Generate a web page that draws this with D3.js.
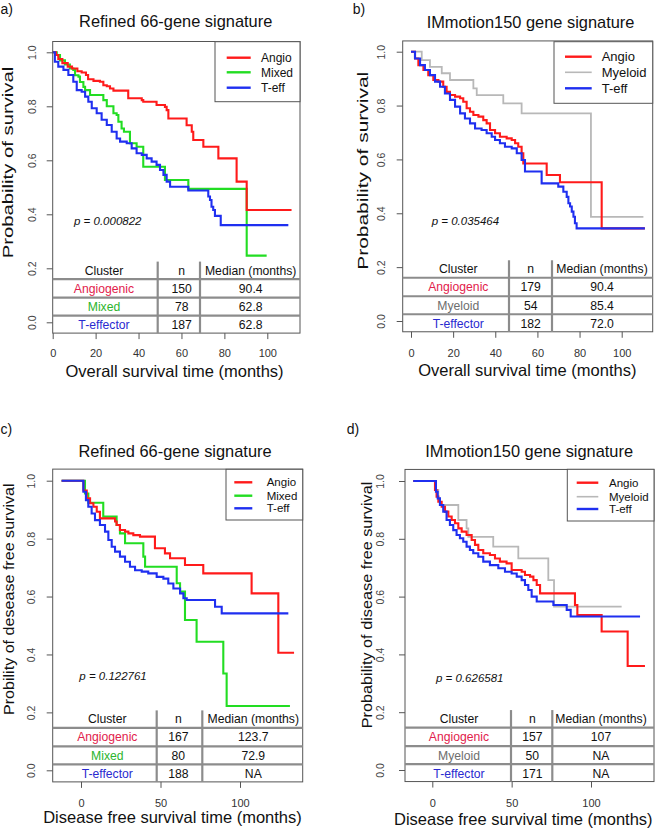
<!DOCTYPE html>
<html><head><meta charset="utf-8">
<script src="https://cdn.jsdelivr.net/npm/d3@7"></script>
<style>body{margin:0;background:#fff} svg{display:block} text{font-family:"Liberation Sans",Arial,Helvetica,sans-serif}</style>
</head><body><svg id="chart" width="655" height="829"></svg>
<script>
// ---------- DATA (time in months, survival probability) ----------
const aAngio = [[0,1],[1.5,0.99],[2.6,0.975],[4.5,0.96],[7,0.947],[9,0.94],[11.5,0.93],[13.5,0.925],[15.5,0.916],[16.5,0.9],[19,0.894],[22,0.891],[23.6,0.878],[25.2,0.874],[26.7,0.866],[28.3,0.858],[35.2,0.83],[41.5,0.823],[42.2,0.817],[48.4,0.805],[52.3,0.798],[53.1,0.786],[53.9,0.755],[62.4,0.73],[64.8,0.706],[65.5,0.675],[70.2,0.65],[77.2,0.607],[85.7,0.521],[90.4,0.416],[111.3,0.416]];
const aMixed = [[0,1],[1.9,0.99],[3.4,0.97],[5.7,0.955],[8,0.94],[9.6,0.935],[10.4,0.915],[12,0.91],[12.7,0.89],[14.3,0.872],[15.1,0.86],[17.4,0.842],[23.6,0.823],[25.2,0.8],[28.3,0.774],[29.8,0.768],[30.6,0.743],[32.1,0.718],[33.2,0.706],[36,0.663],[39.1,0.65],[42.2,0.576],[52.3,0.527],[63.2,0.494],[90.4,0.247],[99.7,0.247]];
const aTeff = [[0,1],[1,0.965],[2.6,0.947],[5,0.935],[7.3,0.916],[9.6,0.891],[11.2,0.86],[13.5,0.854],[15.1,0.836],[16.6,0.817],[18.2,0.793],[20.5,0.774],[22.8,0.75],[25.2,0.731],[27.5,0.706],[29.8,0.681],[31.4,0.669],[34.5,0.663],[36.8,0.644],[39.1,0.626],[41.5,0.62],[43.8,0.607],[46.1,0.595],[48.4,0.583],[50,0.564],[51.6,0.546],[53.1,0.521],[54.7,0.502],[63.2,0.488],[72.5,0.466],[73.3,0.453],[74,0.428],[74.8,0.416],[75.6,0.394],[78.3,0.36],[109.8,0.36]];

const bAngio = [[0,1],[1.9,0.975],[3.5,0.95],[5.9,0.932],[8.2,0.913],[10.6,0.895],[13,0.889],[15.3,0.87],[16.9,0.851],[18.5,0.839],[20.9,0.833],[23.3,0.827],[24.8,0.814],[26.4,0.79],[28,0.777],[29.6,0.765],[32,0.759],[34.3,0.746],[35.9,0.734],[37.5,0.709],[39.9,0.697],[42.2,0.684],[45.4,0.678],[47.8,0.672],[49.4,0.66],[50.9,0.647],[52.5,0.623],[53.3,0.585],[64.4,0.542],[70.7,0.515],[90.5,0.344],[111,0.344]];
const bMyeloid = [[0,1],[5.1,0.969],[9,0.944],[14.6,0.92],[18.5,0.895],[29.6,0.864],[31.2,0.839],[43.8,0.808],[52.5,0.771],[85.4,0.387],[110.3,0.387]];
const bTeff = [[0,1],[1.9,0.975],[4.3,0.95],[6.6,0.932],[9,0.913],[11.4,0.889],[13.8,0.87],[16.1,0.845],[18.5,0.821],[20.9,0.796],[23.3,0.771],[25.6,0.752],[28,0.734],[30.4,0.715],[33.5,0.709],[35.9,0.697],[38.3,0.684],[39.9,0.672],[42.2,0.66],[44.6,0.647],[47.8,0.641],[50.2,0.623],[52.5,0.598],[54.1,0.555],[62,0.511],[69.9,0.499],[72.3,0.48],[73.9,0.461],[74.7,0.437],[75.5,0.425],[76.3,0.406],[77.1,0.387],[77.8,0.363],[78.6,0.344],[111,0.344]];

const cAngio = [[-12.2,1],[1.5,0.966],[3.6,0.939],[5.7,0.922],[7.8,0.91],[9.9,0.893],[11.9,0.87],[21.4,0.859],[22.4,0.847],[24.5,0.83],[27.7,0.824],[29.8,0.818],[32.9,0.812],[37.1,0.807],[46.5,0.767],[52.8,0.749],[56,0.732],[65.4,0.709],[76.9,0.68],[107.3,0.611],[124.1,0.406],[134,0.406]];
const cMixed = [[-12.2,1],[2.5,0.956],[4.6,0.924],[14,0.876],[22.4,0.847],[24.5,0.818],[27.7,0.784],[39.2,0.738],[40.3,0.703],[60.2,0.646],[62.3,0.617],[65.4,0.519],[72.7,0.444],[89.5,0.334],[91.6,0.222],[131.4,0.222]];
const cTeff = [[-12.2,1],[1.5,0.962],[3.1,0.933],[4.6,0.91],[6.7,0.887],[8.8,0.864],[11.9,0.847],[15.1,0.824],[17.2,0.795],[19.3,0.772],[21.4,0.755],[24.5,0.738],[27.7,0.72],[30.8,0.703],[34,0.691],[38.2,0.686],[42.3,0.68],[47.6,0.668],[51.8,0.662],[54.9,0.645],[58.1,0.628],[62.3,0.611],[64.4,0.594],[66.5,0.588],[84.3,0.565],[88.5,0.542],[130.4,0.542]];

const dAngio = [[-12,1],[1.7,0.969],[2.7,0.946],[3.8,0.928],[5.9,0.911],[8,0.894],[10.1,0.877],[12.2,0.865],[14.3,0.854],[16.4,0.836],[18.5,0.825],[21.6,0.813],[24.8,0.796],[26.9,0.779],[29,0.761],[32.1,0.75],[36.3,0.744],[39.5,0.732],[42.6,0.721],[46.8,0.715],[50,0.692],[56.3,0.686],[58.4,0.675],[61.6,0.669],[63.7,0.657],[65.8,0.64],[67.9,0.611],[89.9,0.571],[91.4,0.536],[106.7,0.479],[123.1,0.36],[134,0.36]];
const dMyeloid = [[-12,1],[1.7,0.969],[3.8,0.94],[4.8,0.917],[16.4,0.865],[21.6,0.836],[22.7,0.807],[38.4,0.773],[54.2,0.732],[73.1,0.657],[76.7,0.565],[119.3,0.565]];
const dTeff = [[-12,1],[2.3,0.963],[3.4,0.94],[4.8,0.917],[6.9,0.894],[9,0.865],[11.1,0.848],[13.2,0.83],[15.3,0.813],[17.4,0.802],[19.5,0.79],[21.6,0.773],[23.7,0.761],[25.8,0.75],[29,0.738],[32.1,0.721],[36.3,0.709],[41.6,0.698],[45.8,0.686],[50,0.68],[53.2,0.669],[56.3,0.657],[58.4,0.64],[60.5,0.623],[62.6,0.6],[65.8,0.583],[76.3,0.571],[84.7,0.554],[87.2,0.531],[130.9,0.531]];

const panelLabels = ["a)","b)","c)","d)"];
const titles = ["Refined 66-gene signature","IMmotion150 gene signature","Refined 66-gene signature","IMmotion150 gene signature"];
const xTitles = ["Overall survival time (months)","Overall survival time (months)","Disease free survival time (months)","Disease free survival time (months)"];
const yTitles = ["Probability of survival","Probability of survival","Probility of desease free survival","Probability of disease free survival"];
const pValues = ["0.000822","0.035464","0.122761","0.626581"];
const xTicksOS = [0,20,40,60,80,100];
const xTicksDFS = [0,50,100];
const yTicks = [0,0.2,0.4,0.6,0.8,1.0];
const legendRefined = ["Angio","Mixed","T-eff"];
const legendIMmotion = ["Angio","Myeloid","T-eff"];
const clustersRefined = ["Angiogenic","Mixed","T-effector"];
const clustersIMmotion = ["Angiogenic","Myeloid","T-effector"];
const tableHeader = ["Cluster","n","Median (months)"];
const nA = [150,78,187], medA = ["90.4","62.8","62.8"];
const nB = [179,54,182], medB = ["90.4","85.4","72.0"];
const nC = [167,80,188], medC = ["123.7","72.9","NA"];
const nD = [157,50,171], medD = ["107","NA","NA"];

// ---------- STYLE ----------
const curveCol = {Angio:"#ff1a1a", Mixed:"#22dd22", Myeloid:"#b8b8b8", "T-eff":"#1f2ff0"};
const tableCol = {Angiogenic:"#e2214b", Mixed:"#2db52d", Myeloid:"#6e6e6e", "T-effector":"#2a2ad0"};

const panels = [
 {series:[aAngio,aMixed,aTeff], legend:legendRefined, clusters:clustersRefined, n:nA, med:medA, xTicks:xTicksOS,
  x0:52.7, x100:267.3, boxL:52.7, boxR:300, y0:322.3, y1:52.3,
  lab:[0.5,13.5], title:[175.7,27], xTickY:357.3, xTitle:[174.5,376.7], yTickX:36, yTitle:[13,162.5,191.6], p:[74,224.5],
  lg:{l:215,r:300,t:41.7,b:101.7,ys:[57.7,72.3,87.7],lx1:226.7,lx2:250.7,tx:261,fs:12},
  tb:{v:[157.7,200], cols:[104,181.7,250.7]}},
 {series:[bAngio,bMyeloid,bTeff], legend:legendIMmotion, clusters:clustersIMmotion, n:nB, med:medB, xTicks:xTicksOS,
  x0:411, x100:621.7, boxL:402.7, boxR:652.7, y0:321, y1:51.7,
  lab:[352.7,13.5], title:[530.5,28], xTickY:356.7, xTitle:[527.3,376], yTickX:385, yTitle:[367.7,170.8,198], p:[431.7,224.5],
  lg:{l:554,r:652.7,t:41.7,b:103.3,ys:[56.7,72.3,88.3],lx1:565,lx2:591.7,tx:601.7,fs:13},
  tb:{v:[509,552], cols:[458.3,530.7,602]}},
 {series:[cAngio,cMixed,cTeff], legend:legendRefined, clusters:clustersRefined, n:nC, med:medC, xTicks:xTicksDFS,
  x0:81, x100:240, boxL:52.7, boxR:302.7, y0:770.3, y1:480.7,
  lab:[0.5,434], title:[175,457], xTickY:806.7, xTitle:[172.5,823.3], yTickX:35, yTitle:[13.7,599.2,231.7], p:[79.3,679.5],
  lg:{l:226,r:302.7,t:469.3,b:520,ys:[482.3,495.7,508.3],lx1:234.3,lx2:252.3,tx:266.7,fs:11.5},
  tb:{v:[156.7,202.3], cols:[107.3,178.3,253.3]}},
 {series:[dAngio,dMyeloid,dTeff], legend:legendIMmotion, clusters:clustersIMmotion, n:nD, med:medD, xTicks:xTicksDFS,
  x0:432.3, x100:591, boxL:405, boxR:654, y0:770, y1:481,
  lab:[346.7,434], title:[529.2,457], xTickY:806.7, xTitle:[523.3,825], yTickX:383.5, yTitle:[372,605,246.7], p:[436,682],
  lg:{l:567.3,r:654,t:469.3,b:521,ys:[482.7,496.7,509],lx1:576.7,lx2:598.3,tx:609,fs:11.5},
  tb:{v:[511,552.3], cols:[459,532.3,601]}}
];

const svg = d3.select("#chart");
const axisCol = "#555";

panels.forEach((P, i) => {
  const g = svg.append("g");
  const x = d3.scaleLinear().domain([0,100]).range([P.x0, P.x100]);
  const y = d3.scaleLinear().domain([0,1]).range([P.y0, P.y1]);
  const top = y(1.04), bot = y(-0.04);

  // panel label & title
  g.append("text").attr("x",P.lab[0]).attr("y",P.lab[1]).attr("font-size",14).attr("fill","#111").text(panelLabels[i]);
  g.append("text").attr("x",P.title[0]).attr("y",P.title[1]).attr("text-anchor","middle").attr("font-size",16.4).attr("fill","#111").text(titles[i]);

  // curves
  const line = d3.line().x(d=>x(d[0])).y(d=>y(d[1])).curve(d3.curveStepAfter);
  const order = [1,0,2];
  order.forEach(k => {
    const name = P.legend[k];
    g.append("path").datum(P.series[k]).attr("d",line).attr("fill","none")
      .attr("stroke",curveCol[name]).attr("stroke-width", name==="Myeloid"?1.8:2.1);
  });

  // box
  g.append("rect").attr("x",P.boxL).attr("y",top).attr("width",P.boxR-P.boxL).attr("height",bot-top)
    .attr("fill","none").attr("stroke",axisCol).attr("stroke-width",1);

  // x axis ticks
  const xa = d3.axisBottom(x).tickValues(P.xTicks).tickSize(6).tickFormat(d3.format("d"));
  const gx = g.append("g").attr("transform",`translate(0,${bot})`).call(xa);
  gx.select(".domain").remove();
  gx.selectAll(".tick line").attr("stroke",axisCol);
  gx.selectAll(".tick text").attr("y",null).attr("dy",null)
    .attr("transform",`translate(0,${P.xTickY-bot})`).attr("font-size",11).attr("fill","#333")
    .attr("font-family","Liberation Sans, Arial, sans-serif");

  // y axis ticks
  const ya = d3.axisLeft(y).tickValues(yTicks).tickSize(6).tickFormat(d3.format(".1f"));
  const gy = g.append("g").attr("transform",`translate(${P.boxL},0)`).call(ya);
  gy.select(".domain").remove();
  gy.selectAll(".tick line").attr("stroke",axisCol);
  gy.selectAll(".tick text").attr("x",null).attr("dy",null).attr("text-anchor","middle")
    .attr("transform",`translate(${P.yTickX-P.boxL},0) rotate(-90)`).attr("font-size",10.5).attr("fill","#444")
    .attr("font-family","Liberation Sans, Arial, sans-serif");

  // axis titles
  g.append("text").attr("x",P.xTitle[0]).attr("y",P.xTitle[1]).attr("text-anchor","middle").attr("font-size",16.5).attr("fill","#111").text(xTitles[i]);
  g.append("text").attr("transform",`translate(${P.yTitle[0]},${P.yTitle[1]}) rotate(-90)`).attr("text-anchor","middle")
    .attr("font-size",14).attr("fill","#111").attr("textLength",P.yTitle[2]).attr("lengthAdjust","spacingAndGlyphs").text(yTitles[i]);

  // p value
  g.append("text").attr("x",P.p[0]).attr("y",P.p[1]).attr("font-size",11.5).attr("font-style","italic").attr("fill","#111").text("p = " + pValues[i]);

  // legend
  const L = P.lg;
  g.append("rect").attr("x",L.l).attr("y",L.t).attr("width",L.r-L.l).attr("height",L.b-L.t).attr("fill","#fff").attr("stroke",axisCol).attr("stroke-width",1);
  P.legend.forEach((name,k) => {
    g.append("line").attr("x1",L.lx1).attr("x2",L.lx2).attr("y1",L.ys[k]).attr("y2",L.ys[k])
      .attr("stroke",curveCol[name]).attr("stroke-width",name==="Myeloid"?1.6:2.4);
    g.append("text").attr("x",L.tx).attr("y",L.ys[k]+L.fs*0.36).attr("font-size",L.fs).attr("fill","#111").text(name);
  });

  // table
  const T = P.tb, tcol = "#8c8c8c";
  [-54,-35.5,-17.5].forEach(dy => {
    g.append("line").attr("x1",P.boxL).attr("x2",P.boxR).attr("y1",bot+dy).attr("y2",bot+dy).attr("stroke",tcol).attr("stroke-width",2.2);
  });
  T.v.forEach(vx => {
    g.append("line").attr("x1",vx).attr("x2",vx).attr("y1",bot-71.5).attr("y2",bot).attr("stroke",tcol).attr("stroke-width",2.2);
  });
  tableHeader.forEach((h,c) => {
    g.append("text").attr("x",T.cols[c]).attr("y",bot-58.5).attr("text-anchor","middle").attr("font-size",12.2).attr("fill","#111").text(h);
  });
  const rowY = [-40.5,-22,-4];
  P.clusters.forEach((cl,r) => {
    g.append("text").attr("x",T.cols[0]).attr("y",bot+rowY[r]).attr("text-anchor","middle").attr("font-size",12.2).attr("fill",tableCol[cl]).text(cl);
    g.append("text").attr("x",T.cols[1]).attr("y",bot+rowY[r]).attr("text-anchor","middle").attr("font-size",12.2).attr("fill","#111").text(P.n[r]);
    g.append("text").attr("x",T.cols[2]).attr("y",bot+rowY[r]).attr("text-anchor","middle").attr("font-size",12.2).attr("fill","#111").text(P.med[r]);
  });
});
</script>
</body></html>
